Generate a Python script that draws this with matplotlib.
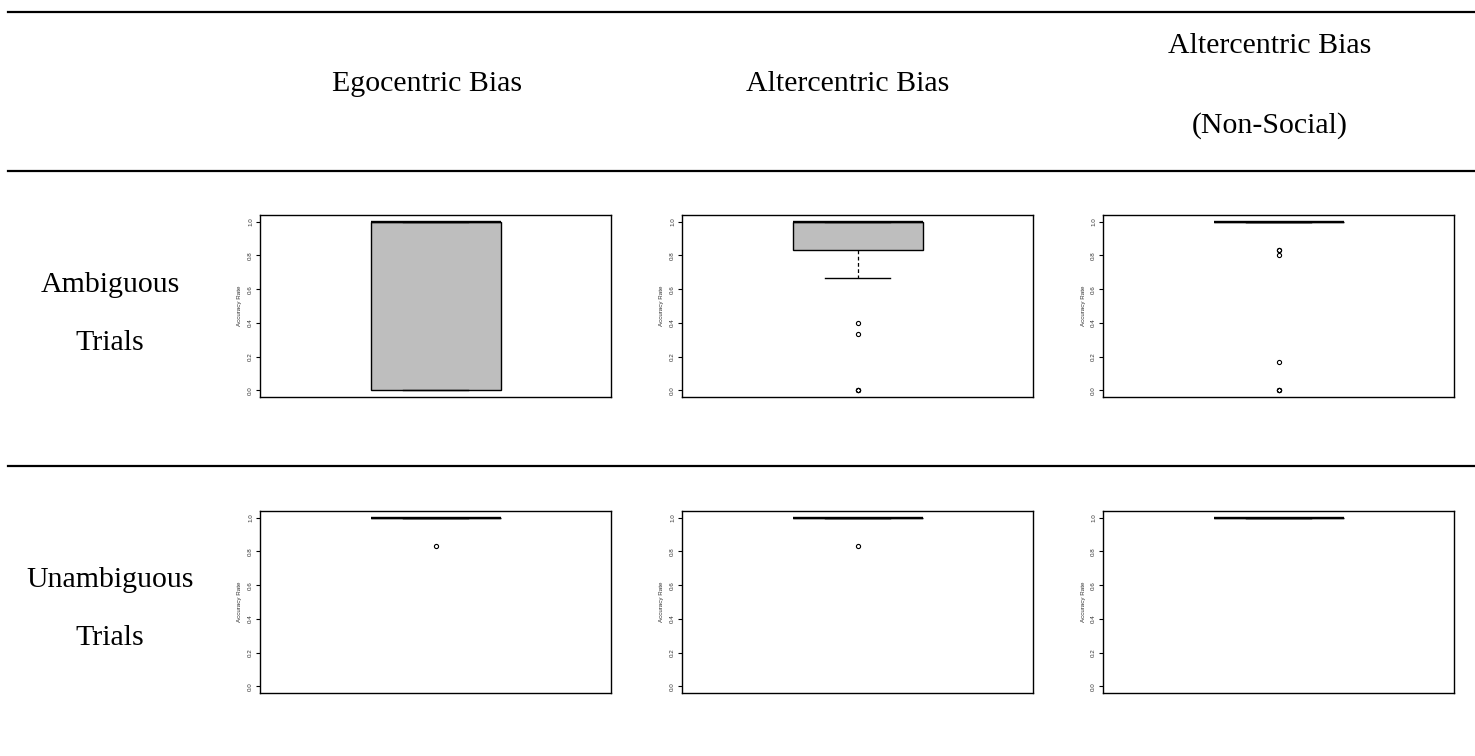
import matplotlib
matplotlib.use('Agg')
import matplotlib.pyplot as plt
from matplotlib.lines import Line2D

W, H = 1475, 756

col_titles = ['Egocentric Bias', 'Altercentric Bias', 'Altercentric Bias\n\n(Non-Social)']
row_titles = ['Ambiguous\n\nTrials', 'Unambiguous\n\nTrials']

# box stats per cell: (whislo, q1, med, q3, whishi)
amb_ego = (0.0, 0.0, 1.0, 1.0, 1.0)
amb_alt = (0.667, 0.833, 1.0, 1.0, 1.0)
amb_alt_ns = (1.0, 1.0, 1.0, 1.0, 1.0)
unamb_ego = (1.0, 1.0, 1.0, 1.0, 1.0)
unamb_alt = (1.0, 1.0, 1.0, 1.0, 1.0)
unamb_alt_ns = (1.0, 1.0, 1.0, 1.0, 1.0)

# outliers per cell
amb_ego_out = []
amb_alt_out = [0.4, 0.333, 0.0, 0.0, 0.0]
amb_alt_ns_out = [0.833, 0.833, 0.8, 0.167, 0.0, 0.0, 0.0]
unamb_ego_out = [0.833]
unamb_alt_out = [0.833]
unamb_alt_ns_out = []

stats = [[amb_ego, amb_alt, amb_alt_ns], [unamb_ego, unamb_alt, unamb_alt_ns]]
outs = [[amb_ego_out, amb_alt_out, amb_alt_ns_out],
        [unamb_ego_out, unamb_alt_out, unamb_alt_ns_out]]

yticks = [0.0, 0.2, 0.4, 0.6, 0.8, 1.0]

fig = plt.figure(figsize=(W / 100, H / 100), dpi=100)

# axes placement in pixels (left, top) and size
col_left = [260, 682, 1103]
row_top = [215, 511]
ax_w, ax_h = 351, 182

for r in range(2):
    for c in range(3):
        l = col_left[c] / W
        b = 1 - (row_top[r] + ax_h) / H
        ax = fig.add_axes([l, b, ax_w / W, ax_h / H])
        lo, q1, med, q3, hi = stats[r][c]
        st = [dict(whislo=lo, q1=q1, med=med, q3=q3, whishi=hi, fliers=outs[r][c])]
        ax.bxp(st, positions=[1], widths=0.4, patch_artist=True,
               boxprops=dict(facecolor='#bebebe', edgecolor='black', linewidth=1.0),
               medianprops=dict(color='black', linewidth=1.7),
               whiskerprops=dict(color='black', linewidth=0.9, linestyle=(0, (3, 2))),
               capprops=dict(color='black', linewidth=1.0),
               flierprops=dict(marker='o', markerfacecolor='none', markeredgecolor='black',
                               markersize=3, markeredgewidth=0.8),
               capwidths=0.2)
        ax.set_xlim(0.46, 1.54)
        ax.set_ylim(-0.04, 1.04)
        ax.set_xticks([])
        ax.set_yticks(yticks)
        ax.set_yticklabels(['%.1f' % v for v in yticks], rotation=90, va='center',
                           fontsize=4.5, family='Liberation Sans', color='#333333')
        ax.tick_params(axis='y', length=3, width=0.8, pad=2)
        ax.set_ylabel('Accuracy Rate', fontsize=4.5, family='Liberation Sans',
                      color='#333333', labelpad=4)
        for s in ax.spines.values():
            s.set_linewidth(1.0)

# column headers
serif = dict(family='Liberation Serif', fontsize=21.5, ha='center', va='center')
fig.text(427 / W, 1 - 84 / H, col_titles[0], **serif)
fig.text(848 / W, 1 - 84 / H, col_titles[1], **serif)
fig.text(1270 / W, 1 - 86 / H, col_titles[2], linespacing=1.65, **serif)

# row headers
fig.text(110 / W, 1 - 314 / H, row_titles[0], linespacing=1.15, **serif)
fig.text(110 / W, 1 - 609 / H, row_titles[1], linespacing=1.15, **serif)

# table rules
for y in [12, 171, 466]:
    fig.add_artist(Line2D([8 / W, 1], [1 - y / H, 1 - y / H], color='black', linewidth=1.6))

fig.savefig('out.png', dpi=100)
